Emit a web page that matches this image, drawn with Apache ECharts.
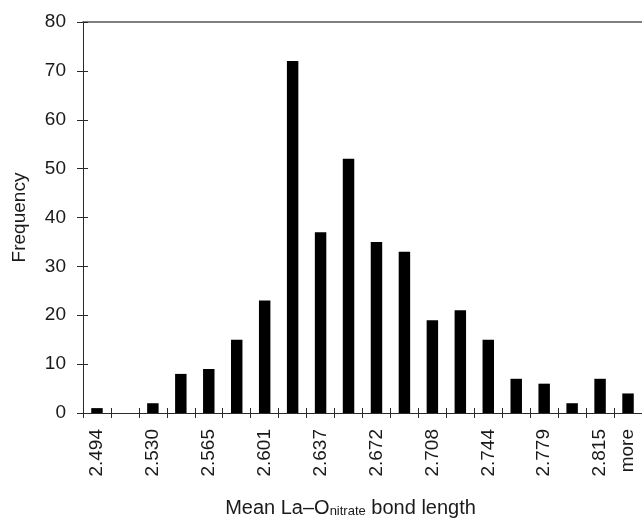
<!DOCTYPE html>
<html>
<head>
<meta charset="utf-8">
<script src="https://cdn.jsdelivr.net/npm/echarts@6/dist/echarts.min.js"></script>
<style>
html,body{margin:0;padding:0;background:#fff;}
#chart{width:642px;height:523px;}
</style>
</head>
<body>
<div id="chart"></div>
<script>
// Bin labels (only every other one is printed, plus "more")
const categories = ['2.494','2.512','2.530','2.548','2.565','2.583','2.601','2.619','2.637','2.655',
                    '2.672','2.690','2.708','2.726','2.744','2.762','2.779','2.797','2.815','more'];
const frequency = [1,0,2,8,9,15,23,72,37,52,35,33,19,21,15,7,6,2,7,4];
const yTicks = {min:0, max:80, step:10};

const FONT = 'Liberation Sans, Arial, sans-serif';
const TXT = '#1a1a1a';
const AX = '#2a2a2a';

const chart = echarts.init(document.getElementById('chart'), null, {renderer:'canvas'});
chart.setOption({
  animation:false,
  backgroundColor:'#fff',
  grid:{left:83, top:22, bottom:107, right:-4},
  xAxis:[
    {
      type:'category', data:categories, boundaryGap:true, position:'bottom',
      axisLine:{show:true, lineStyle:{color:AX, width:1}},
      axisTick:{show:true, interval:0, length:5, inside:false, lineStyle:{color:AX, width:1}},
      axisLabel:{
        interval:function(i, v){ return i % 2 === 0 || v === 'more'; },
        rotate:90, fontSize:19, margin:16, color:TXT, fontFamily:FONT, padding:[0,0,6,0]
      },
      splitLine:{show:false},
      name:'{a|Mean La–O}{s|nitrate}{a| bond length}',
      nameLocation:'middle', nameGap:85,
      nameTextStyle:{
        color:TXT, fontFamily:FONT, fontSize:20, padding:[0,24,0,0],
        rich:{
          a:{fontSize:20, fontFamily:FONT, color:TXT, lineHeight:20, verticalAlign:'bottom'},
          s:{fontSize:13, fontFamily:FONT, color:TXT, lineHeight:8, verticalAlign:'bottom'}
        }
      }
    },
    {
      type:'category', data:categories, boundaryGap:true, position:'bottom',
      axisLine:{show:false},
      axisTick:{show:true, interval:0, length:5, inside:true, lineStyle:{color:AX, width:1}},
      axisLabel:{show:false}, splitLine:{show:false}
    },
    {
      type:'category', data:categories, boundaryGap:true, position:'top',
      axisLine:{show:true, lineStyle:{color:'#555', width:1.5}},
      axisTick:{show:false}, axisLabel:{show:false}, splitLine:{show:false}
    }
  ],
  yAxis:[
    {
      type:'value', min:yTicks.min, max:yTicks.max, interval:yTicks.step, position:'left',
      axisLine:{show:true, lineStyle:{color:AX, width:1}},
      axisTick:{show:true, length:6, inside:false, lineStyle:{color:AX}},
      axisLabel:{fontSize:19, margin:17, color:TXT, fontFamily:FONT},
      splitLine:{show:false},
      name:'Frequency', nameLocation:'middle', nameGap:54, nameRotate:90,
      nameTextStyle:{fontSize:19, color:TXT, fontFamily:FONT}
    },
    {
      type:'value', min:yTicks.min, max:yTicks.max, interval:yTicks.step, position:'left',
      axisLine:{show:false},
      axisTick:{show:true, length:5, inside:true, lineStyle:{color:AX}},
      axisLabel:{show:false}, splitLine:{show:false}
    }
  ],
  series:[{
    type:'bar', xAxisIndex:0, yAxisIndex:0, data:frequency,
    barWidth:'41%', itemStyle:{color:'#000'}, silent:true
  }]
});
</script>
</body>
</html>
